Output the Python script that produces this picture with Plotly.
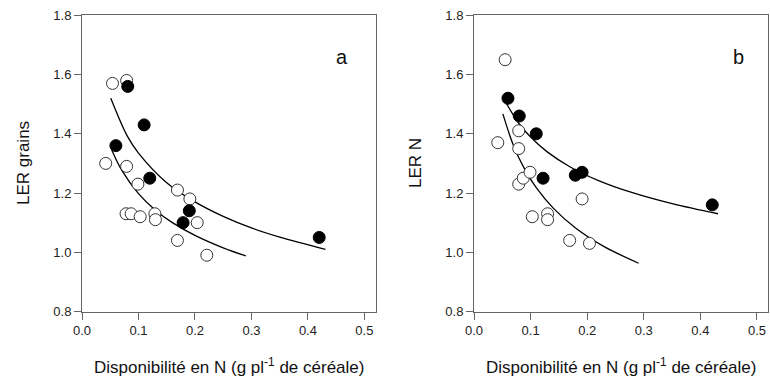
import plotly.graph_objects as go

# Panel a: LER grains
a_open_x = [0.054, 0.079, 0.042, 0.079, 0.099, 0.078, 0.087, 0.103, 0.129, 0.130, 0.169, 0.191, 0.204, 0.169, 0.221]
a_open_y = [1.57, 1.58, 1.30, 1.29, 1.23, 1.13, 1.13, 1.12, 1.13, 1.11, 1.21, 1.18, 1.10, 1.04, 0.99]
a_fill_x = [0.081, 0.110, 0.060, 0.120, 0.190, 0.179, 0.420]
a_fill_y = [1.56, 1.43, 1.36, 1.25, 1.14, 1.10, 1.05]
a_fit_hi_x = [0.051, 0.08, 0.10, 0.15, 0.20, 0.25, 0.30, 0.35, 0.431]
a_fit_hi_y = [1.52, 1.393, 1.335, 1.235, 1.170, 1.121, 1.082, 1.051, 1.010]
a_fit_lo_x = [0.0525, 0.07, 0.10, 0.13, 0.16, 0.20, 0.25, 0.29]
a_fit_lo_y = [1.346, 1.278, 1.198, 1.142, 1.100, 1.057, 1.015, 0.988]

# Panel b: LER N
b_open_x = [0.055, 0.042, 0.079, 0.079, 0.079, 0.087, 0.099, 0.103, 0.130, 0.130, 0.169, 0.204, 0.191]
b_open_y = [1.65, 1.37, 1.41, 1.35, 1.23, 1.25, 1.27, 1.12, 1.13, 1.11, 1.04, 1.03, 1.18]
b_fill_x = [0.060, 0.080, 0.110, 0.122, 0.179, 0.191, 0.421]
b_fill_y = [1.52, 1.46, 1.40, 1.25, 1.26, 1.27, 1.16]
b_fit_hi_x = [0.057, 0.08, 0.10, 0.13, 0.17, 0.22, 0.28, 0.35, 0.431]
b_fit_hi_y = [1.503, 1.433, 1.389, 1.338, 1.288, 1.242, 1.201, 1.164, 1.130]
b_fit_lo_x = [0.051, 0.07, 0.09, 0.11, 0.14, 0.18, 0.23, 0.291]
b_fit_lo_y = [1.467, 1.359, 1.279, 1.218, 1.149, 1.081, 1.019, 0.963]

x_ticks = [0.0, 0.1, 0.2, 0.3, 0.4, 0.5]
x_tick_text = ["0.0", "0.1", "0.2", "0.3", "0.4", "0.5"]
y_ticks = [0.8, 1.0, 1.2, 1.4, 1.6, 1.8]
y_tick_text = ["0.8", "1.0", "1.2", "1.4", "1.6", "1.8"]
y_titles = ["LER grains", "LER N"]
x_title = "Disponibilité en N (g pl<sup>-1</sup> de céréale)"
panel_labels = ["a", "b"]

FONT = "Liberation Sans, Arial, sans-serif"
AX = "#666666"

fig = go.Figure()

panels = [
    ("x", "y", a_open_x, a_open_y, a_fill_x, a_fill_y, a_fit_hi_x, a_fit_hi_y, a_fit_lo_x, a_fit_lo_y),
    ("x2", "y2", b_open_x, b_open_y, b_fill_x, b_fill_y, b_fit_hi_x, b_fit_hi_y, b_fit_lo_x, b_fit_lo_y),
]
for xa, ya, ox, oy, fx, fy, hx, hy, lx, ly in panels:
    for cx, cy in ((hx, hy), (lx, ly)):
        fig.add_trace(go.Scatter(x=cx, y=cy, xaxis=xa, yaxis=ya, mode="lines",
                                 line=dict(color="black", width=1.3, shape="spline", smoothing=1.0),
                                 showlegend=False, hoverinfo="skip"))
    fig.add_trace(go.Scatter(x=ox, y=oy, xaxis=xa, yaxis=ya, mode="markers",
                             marker=dict(size=12, color="white", line=dict(color="#333333", width=1)),
                             showlegend=False))
    fig.add_trace(go.Scatter(x=fx, y=fy, xaxis=xa, yaxis=ya, mode="markers",
                             marker=dict(size=12, color="black", line=dict(color="black", width=1)),
                             showlegend=False))

H = 381.0
W = 770.0
ydom = [(H - 311.5) / H, (H - 15.3) / H]
xdoms = [[82 / W, 375.7 / W], [474 / W, 768.3 / W]]

axis_common = dict(showline=True, linecolor=AX, linewidth=1, mirror=True, showgrid=False,
                   zeroline=False, ticks="outside", ticklen=7, tickcolor=AX, tickwidth=1,
                   tickfont=dict(family=FONT, size=13, color="#222222"))

fig.update_layout(
    width=770, height=381,
    margin=dict(l=0, r=0, t=0, b=0, autoexpand=False),
    paper_bgcolor="white", plot_bgcolor="white",
    xaxis=dict(domain=xdoms[0], range=[0, 0.52], tickvals=x_ticks, ticktext=x_tick_text, anchor="y", **axis_common),
    yaxis=dict(domain=ydom, range=[0.8, 1.8], tickvals=y_ticks, ticktext=y_tick_text, anchor="x", **axis_common),
    xaxis2=dict(domain=xdoms[1], range=[0, 0.52], tickvals=x_ticks, ticktext=x_tick_text, anchor="y2", **axis_common),
    yaxis2=dict(domain=ydom, range=[0.8, 1.8], tickvals=y_ticks, ticktext=y_tick_text, anchor="x2", **axis_common),
)

annos = []
for i in range(2):
    xd = xdoms[i]
    annos.append(dict(text=x_title, xref="paper", yref="paper", x=(xd[0] + xd[1]) / 2, y=(H - 366) / H,
                      showarrow=False, xanchor="center", yanchor="middle",
                      font=dict(family=FONT, size=17, color="#111111")))
    annos.append(dict(text=y_titles[i], xref="paper", yref="paper",
                      x=(23 if i == 0 else 415) / W, y=(H - 163) / H, textangle=-90,
                      showarrow=False, xanchor="center", yanchor="middle",
                      font=dict(family=FONT, size=17, color="#111111")))
    annos.append(dict(text=panel_labels[i], xref="x" if i == 0 else "x2", yref="y" if i == 0 else "y2",
                      x=0.46 if i == 0 else 0.467, y=1.66, showarrow=False,
                      xanchor="center", yanchor="middle",
                      font=dict(family=FONT, size=20, color="#111111")))
fig.update_layout(annotations=annos)

fig.write_html("out.html", config={"displayModeBar": False},
               post_script="document.body.style.margin='0';document.body.style.overflow='hidden';")
